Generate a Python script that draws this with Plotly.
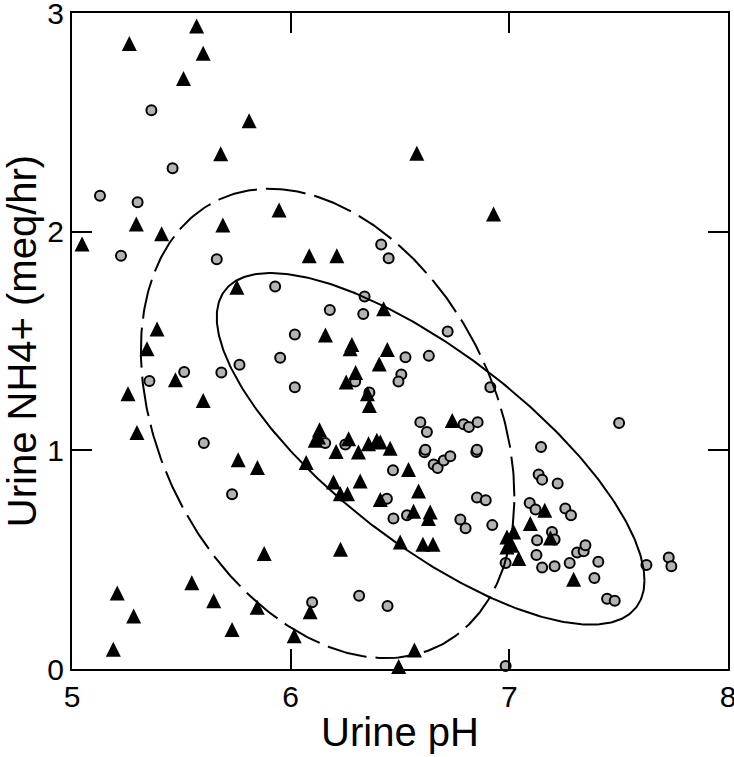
import numpy as np
import plotly.graph_objects as go

# Group plotted as black triangles
tri_ph = [5.57, 5.262, 5.60, 5.51, 5.81, 5.68, 5.947, 5.294, 5.41, 5.69, 5.046, 6.577, 6.928,
          5.754, 5.389, 5.343, 5.473, 5.256, 5.60, 5.297, 5.76, 5.848, 5.879, 5.548, 5.207,
          5.648, 5.847, 5.282, 5.732, 5.189, 6.016, 6.089, 6.566, 6.494, 6.228, 6.071, 6.196,
          6.318, 6.227, 6.26, 6.41, 6.562, 6.638, 6.63, 6.585, 6.539, 6.501, 6.605, 6.651,
          6.989, 6.989, 6.085, 6.211, 6.425, 6.159, 6.28, 6.272, 6.442, 6.405, 6.297, 6.254,
          6.351, 6.36, 6.739, 6.132, 6.127, 6.112, 6.265, 6.356, 6.394, 6.41, 6.455, 6.208,
          6.31, 7.162, 7.096, 7.02, 7.012, 7.043, 7.188, 7.294]
tri_nh4 = [2.94, 2.86, 2.816, 2.70, 2.507, 2.356, 2.099, 2.035, 1.99, 2.03, 1.944, 2.359, 2.081,
           1.746, 1.555, 1.464, 1.323, 1.259, 1.228, 1.082, 0.957, 0.921, 0.528, 0.394, 0.348,
           0.312, 0.282, 0.242, 0.181, 0.09, 0.152, 0.262, 0.087, 0.011, 0.548, 0.944, 0.855,
           0.86, 0.802, 0.802, 0.775, 0.721, 0.718, 0.688, 0.814, 0.912, 0.581, 0.571, 0.571,
           0.604, 0.558, 1.89, 1.89, 1.647, 1.528, 1.484, 1.464, 1.461, 1.395, 1.356, 1.312,
           1.259, 1.205, 1.137, 1.094, 1.061, 1.046, 1.053, 1.03, 1.046, 1.038, 1.01, 0.995,
           0.992, 0.726, 0.665, 0.627, 0.566, 0.505, 0.599, 0.41]

# Group plotted as grey circles
cir_ph = [5.363, 5.46, 5.128, 5.30, 5.224, 5.662, 5.929, 5.952, 6.019, 6.019, 5.513, 5.683,
          5.766, 5.354, 5.603, 5.732, 6.098, 6.313, 6.443, 6.983, 6.44, 6.47, 6.532, 6.468,
          6.612, 6.654, 6.672, 6.70, 6.73, 6.849, 6.852, 6.892, 6.776, 6.80, 6.922, 6.983,
          6.414, 6.448, 6.338, 6.332, 6.179, 6.718, 6.525, 6.632, 6.506, 6.493, 6.295, 6.36,
          6.913, 6.593, 6.623, 6.791, 6.815, 6.855, 6.158, 6.25, 6.616, 6.852, 7.145, 7.134,
          7.15, 7.221, 7.093, 7.12, 7.256, 7.282, 7.195, 7.207, 7.127, 7.124, 7.15, 7.207,
          7.276, 7.31, 7.34, 7.348, 7.407, 7.389, 7.447, 7.482, 7.627, 7.729, 7.741, 7.502]
cir_nh4 = [2.555, 2.29, 2.164, 2.135, 1.89, 1.874, 1.749, 1.423, 1.53, 1.289, 1.358, 1.356,
           1.391, 1.317, 1.033, 0.799, 0.305, 0.335, 0.288, 0.014, 0.779, 0.688, 0.703, 0.909,
           0.991, 0.935, 0.919, 0.954, 0.973, 0.992, 0.784, 0.772, 0.684, 0.644, 0.658, 0.485,
           1.941, 1.878, 1.703, 1.624, 1.642, 1.543, 1.426, 1.432, 1.347, 1.315, 1.315, 1.265,
           1.289, 1.129, 1.084, 1.119, 1.107, 1.129, 1.033, 1.027, 1.003, 1.003, 1.015, 0.889,
           0.866, 0.848, 0.759, 0.729, 0.734, 0.703, 0.627, 0.592, 0.589, 0.521, 0.464, 0.47,
           0.485, 0.533, 0.539, 0.566, 0.49, 0.416, 0.321, 0.312, 0.476, 0.51, 0.47, 1.125]

# Ellipse parameters: centre, half-extent in x and y, correlation
solid_ell = dict(cx=6.64, cy=1.007, sx=0.978, sy=0.804, rho=-0.748)
dash_ell = dict(cx=6.169, cy=1.123, sx=0.854, sy=1.073, rho=-0.311)

x_ticks = [5, 6, 7, 8]
y_ticks = [0, 1, 2, 3]


def ellipse(p, n=400):
    t = np.linspace(0, 2 * np.pi, n)
    x = p["cx"] + p["sx"] * np.cos(t)
    y = p["cy"] + p["sy"] * (p["rho"] * np.cos(t) + np.sqrt(1 - p["rho"] ** 2) * np.sin(t))
    return x, y


fig = go.Figure()
fig.add_trace(go.Scatter(
    x=cir_ph, y=cir_nh4, mode="markers", cliponaxis=False,
    marker=dict(symbol="circle", size=10, color="#b3b3b3", line=dict(color="black", width=2)),
    showlegend=False, hoverinfo="skip"))
fig.add_trace(go.Scatter(
    x=tri_ph, y=tri_nh4, mode="markers", cliponaxis=False,
    marker=dict(symbol="arrow-down", angle=180, standoff=7.5, size=15, color="black",
                line=dict(width=0)),
    showlegend=False, hoverinfo="skip"))

sx, sy = ellipse(solid_ell)
fig.add_trace(go.Scatter(x=sx, y=sy, mode="lines", line=dict(color="black", width=2),
                         showlegend=False, hoverinfo="skip"))
dx, dy = ellipse(dash_ell)
fig.add_trace(go.Scatter(x=dx, y=dy, mode="lines",
                         line=dict(color="black", width=2, dash="40px,9px"),
                         showlegend=False, hoverinfo="skip"))

axis_common = dict(
    showgrid=False, zeroline=False, showline=True, linecolor="black", linewidth=2,
    mirror="ticks", ticks="inside", ticklen=20, tickwidth=2, tickcolor="black",
    automargin=False, ticklabeloverflow="allow",
    tickfont=dict(family="Liberation Sans, Arial, sans-serif", size=30, color="black"),
)
fig.update_layout(
    width=734, height=757,
    margin=dict(l=72, r=6, t=13, b=88),
    paper_bgcolor="white", plot_bgcolor="white",
    font=dict(family="Liberation Sans, Arial, sans-serif", color="black"),
    xaxis=dict(range=[5, 8], tickvals=x_ticks, ticktext=[str(v) for v in x_ticks],
               title=dict(text="Urine pH", font=dict(size=40), standoff=6), **axis_common),
    yaxis=dict(range=[0, 3], tickvals=y_ticks, ticktext=[str(v) for v in y_ticks],
               title=dict(text="Urine NH4+ (meq/hr)", font=dict(size=40), standoff=2),
               **axis_common),
)
fig.write_html("out.html", config={"displayModeBar": False, "staticPlot": True},
               post_script="document.body.style.margin='0';document.body.style.overflow='hidden';")
